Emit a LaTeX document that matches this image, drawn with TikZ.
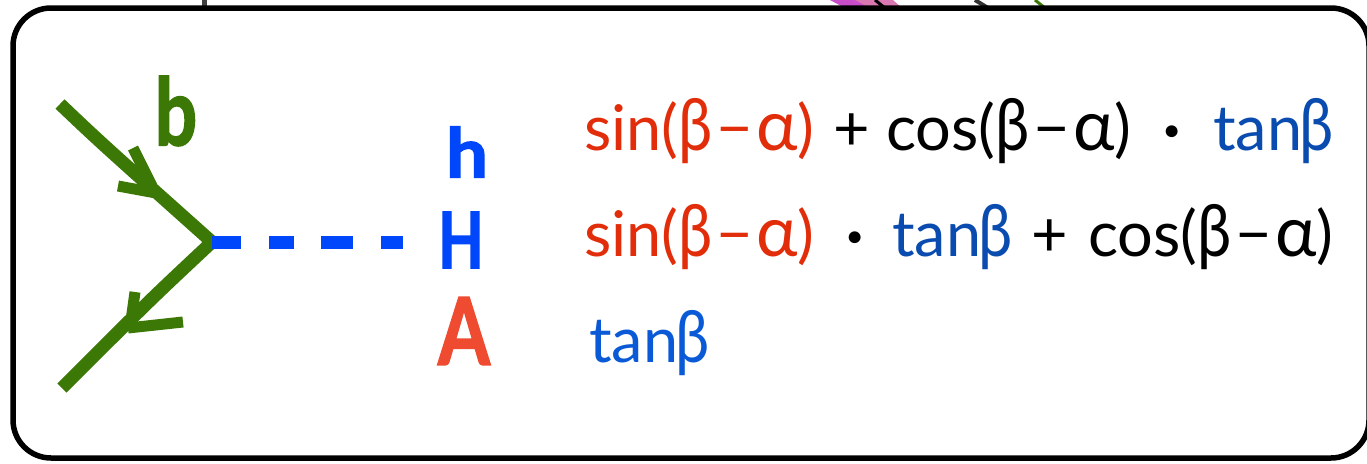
\documentclass[tikz,border=0pt]{standalone}
\usepackage{fontspec}
\setmainfont{Lato}
\newfontfamily\handfont[BoldFeatures={FakeBold=2}]{Lato}
\definecolor{fgreen}{RGB}{60,120,5}
\definecolor{hblue}{RGB}{0,70,250}
\definecolor{ared}{RGB}{238,75,48}
\definecolor{sred}{RGB}{226,45,10}
\definecolor{tblue}{RGB}{10,75,175}
\definecolor{tblueb}{RGB}{10,90,215}
\newcommand\bigal{{\fontsize{70}{70}\selectfont α}}
\newcommand\bigbe{{\fontsize{72}{72}\selectfont\scalebox{0.85}[1]{β}}}
\newcommand\angdiff{(\bigbe\hspace{4pt}−\hspace{3pt}\bigal)}
\newcommand\dotsym{\textbf{·}}
\newcommand\tanb{tan\hspace{-3pt}\bigbe}
\tikzset{
 frame/.style={draw=black,line width=5.5pt,rounded corners=38pt,fill=white},
 fermion/.style={draw=fgreen,line width=13pt,line join=miter},
 tip/.style={draw=fgreen,line width=11pt},
 scalar/.style={draw=hblue,line width=13pt},
 hand/.style={font=\handfont\bfseries\fontsize{62}{62}\selectfont,inner sep=0pt,anchor=center},
 formula/.style={font=\fontsize{63}{63}\selectfont,inner sep=0pt,anchor=base west},
}
\begin{document}
\begin{tikzpicture}[x=1pt,y=-1pt]
\useasboundingbox (0,0) rectangle (1367,463);
\fill[white] (0,0) rectangle (1367,463);
% fragments above the frame
\fill[black!75] (202,0) rectangle (207,8);
\fill[violet!60!magenta!70] (830,0) -- (865,0) -- (875,8) -- (845,8) -- cycle;
\fill[magenta!55!violet!60] (855,0) -- (893,0) -- (902,8) -- (870,8) -- cycle;
\draw[black,line width=3pt] (875,0) -- (885,8);
\draw[black!80,line width=4pt] (975,0) -- (988,8);
\draw[fgreen,line width=3pt] (1035,0) -- (1045,8);
% frame
\path[frame] (13,8) rectangle (1369,458);
% vertex
\coordinate (v) at (212,242);
\coordinate (in) at (60,104);
\coordinate (out) at (62,388);
\coordinate (end) at (403,242);
\draw[fermion] (in) .. controls (100,142) .. (v) .. controls (150,300) .. (out);
\draw[tip] (133,148) -- (152,186) (118,186) -- (156,193);
\draw[tip] (135,292) -- (130,328) (128,328) -- (183,322);
\draw[scalar] (v) -- (241,242) (269,242) -- (294,242) (321,242) -- (353,242) (381,242) -- (end);
% hand labels
\node[hand,text=fgreen] (b) at (176,111) {\scalebox{1.2}[1.5]{b}};
\node[hand,text=hblue] (h) at (467,152) {\scalebox{1.2}[1.1]{h}};
\node[hand,text=hblue] (H) at (461,240) {\scalebox{0.95}[1.25]{H}};
\node[hand,text=ared] (A) at (464,331) {\scalebox{1.2}[1.5]{A}};
% formulas
\node[formula] (r1) at (584,150) {\textcolor{sred}{sin\angdiff}\hspace{3pt} + cos\angdiff~~\dotsym~~\textcolor{tblue}{\tanb}};
\node[formula] (r2) at (584,256) {\textcolor{sred}{sin\angdiff}~~\dotsym~~\hspace{-4pt}\textcolor{tblue}{\tanb}\hspace{3pt} + \hspace{4pt}cos\angdiff};
\node[formula] (r3) at (589,362) {\textcolor{tblueb}{\tanb}};
\end{tikzpicture}
\end{document}
